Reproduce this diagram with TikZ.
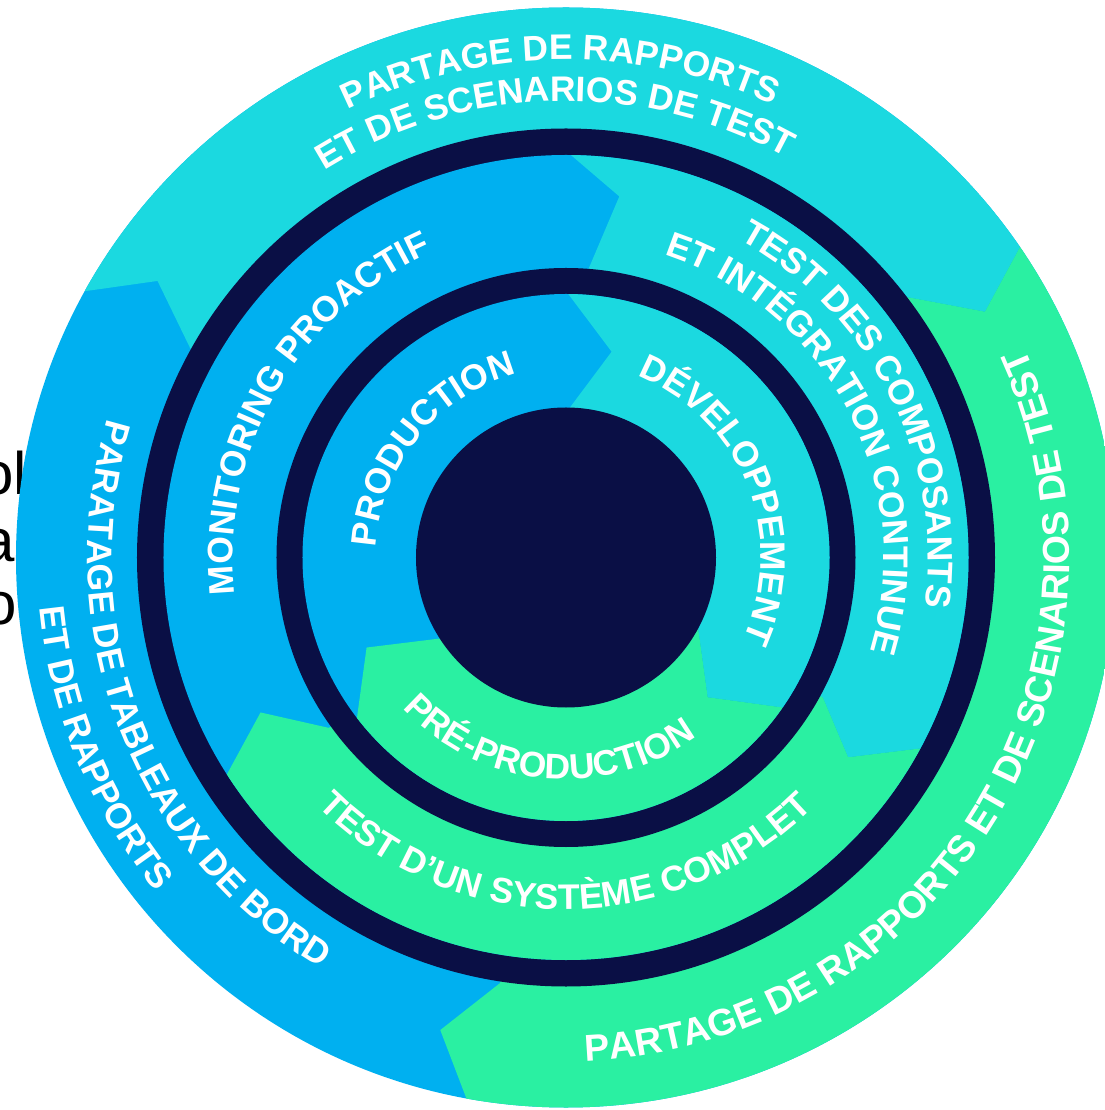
\documentclass[tikz,border=0pt]{standalone}
\usepackage{fontspec}
\setmainfont{Liberation Sans}
\usetikzlibrary{decorations.text}
\definecolor{cblue}{HTML}{00B0F0}
\definecolor{ccyan}{HTML}{1BD9E0}
\definecolor{cgreen}{HTML}{2AF0A2}
\definecolor{cnavy}{HTML}{0A0F45}
\newcommand\lbl{\color{white}\bfseries\fontsize{35.5}{40}\selectfont}
\newcommand\lblbig{\color{white}\bfseries\fontsize{37.5}{42}\selectfont}
% clockwise arc text (letters pointing outward)
\newcommand\cwtext[5][\lbl]{%
  \path[decorate,decoration={text along path,text align=center,text={|#1|#5}}]
    (#3+#4:#2) arc[start angle=#3+#4, end angle=#3-#4, radius=#2];}
% counter-clockwise arc text (letters pointing inward)
\newcommand\ccwtext[5][\lbl]{%
  \path[decorate,decoration={text along path,text align=center,text={|#1|#5}}]
    (#3-#4:#2) arc[start angle=#3-#4, end angle=#3+#4, radius=#2];}
\tikzset{
  frag/.style={anchor=base east, inner sep=0pt, text=black, font=\fontsize{60}{70}\selectfont},
}
\begin{document}
\begin{tikzpicture}[x=1pt,y=1pt]
\useasboundingbox (-566,-552.5) rectangle (538,557.5);
\fill[white] (-566,-552.5) rectangle (538,557.5);
% slide text fragments behind the wheel
\node[frag] (f1) at (-539,62.5) {ol};
\node[frag] (f2) at (-551,-4.5) {a};
\node[frag] (f3) at (-549,-67.5) {o};
% ---------- outer band ----------
\begin{scope}
  \clip (0,0) circle (550);
  \fill[cblue] (0,0) circle (560);
  \fill[ccyan] (0,0) -- (150.9:430) -- (145.9:493.3) -- (151.2:552) -- (151.2:800)
     -- (110:800) -- (70:800) -- (34.4:800) -- (34.4:550.6) -- (30.4:485.8) -- (37.3:429.6) -- cycle;
  \fill[cgreen] (0,0) -- (37.3:429.6) -- (30.4:485.8) -- (34.4:550.6) -- (34.4:800)
     -- (0:800) -- (-35:800) -- (-70:800) -- (-100.4:800) -- (-100.4:550.6) -- (-104.9:489) -- (-98.8:430.6) -- cycle;
\end{scope}
\fill[cnavy] (0,0) circle (429);
% ---------- middle band ----------
\begin{scope}
  \clip (0,0) circle (402.5);
  \fill[cblue] (0,0) circle (410);
  \fill[ccyan] (0,0) -- (85.5:290) -- (81.6:365) -- (89.3:402.5) -- (89.3:700)
     -- (30:700) -- (-28.2:700) -- (-28.2:403.7) -- (-35.3:345.7) -- (-28.6:292.7) -- cycle;
  \fill[cgreen] (0,0) -- (-28.6:292.7) -- (-35.3:345.7) -- (-28.2:403.7) -- (-28.2:700)
     -- (-90:700) -- (-147.4:700) -- (-147.4:402.5) -- (-153.1:342.5) -- (-144.3:292) -- cycle;
\end{scope}
\fill[cnavy] (0,0) circle (289.5);
% ---------- inner band ----------
\begin{scope}
  \clip (0,0) circle (263.5);
  \fill[cblue] (0,0) circle (270);
  \fill[ccyan] (0,0) -- (88.5:150) -- (77.5:210.8) -- (89.5:263.5) -- (89.5:700)
     -- (30:700) -- (-34.7:700) -- (-34.7:263.5) -- (-44.6:199) -- (-28.2:150) -- cycle;
  \fill[cgreen] (0,0) -- (-28.2:150) -- (-44.6:199) -- (-34.7:263.5) -- (-34.7:700)
     -- (-90:700) -- (-142.5:700) -- (-142.5:263.5) -- (-155.7:218.8) -- (-147.3:150) -- cycle;
\end{scope}
\fill[cnavy] (0,0) circle (150);
% ---------- texts ----------
\cwtext{190}{141}{70}{PRODUCTION}
\cwtext{195}{21.9}{75}{DÉVELOPPEMENT}
\ccwtext{222}{264.4}{70}{PRÉ-PRODUCTION}
\cwtext{333}{150}{60}{MONITORING PROACTIF}
\cwtext{362}{26.8}{60}{TEST DES COMPOSANTS}
\cwtext{318}{27.4}{65}{ET INTÉGRATION CONTINUE}
\ccwtext{351.7}{269.9}{70}{TEST D’UN SYSTÈME COMPLET}
\cwtext{498}{90.7}{50}{PARTAGE DE RAPPORTS}
\cwtext{456.5}{91.5}{50}{ET DE SCENARIOS DE TEST}
\ccwtext[\lblbig]{503.7}{328.4}{80}{PARTAGE DE RAPPORTS ET DE SCENARIOS DE TEST}
\ccwtext{478.3}{201.2}{60}{PARATAGE DE TABLEAUX DE BORD}
\ccwtext{529}{202.35}{40}{ET DE RAPPORTS}
\end{tikzpicture}
\end{document}
